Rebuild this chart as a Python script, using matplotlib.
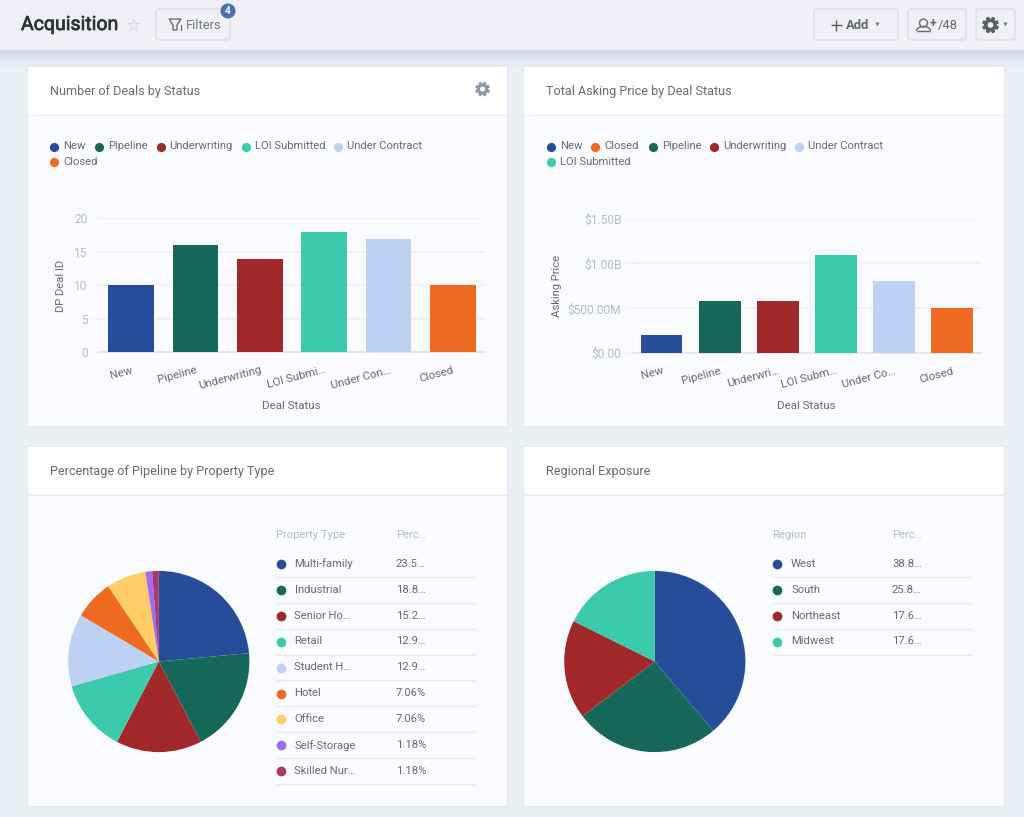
import matplotlib
matplotlib.use('Agg')
import numpy as np
import matplotlib.pyplot as plt
import matplotlib.patheffects as pe
from matplotlib.patches import Rectangle, FancyBboxPatch, Circle, Arc, Polygon

plt.rcParams['font.family'] = ['Roboto', 'DejaVu Sans']

W, H = 1024, 817

# bar charts
statuses = ['New', 'Pipeline', 'Underwriting', 'LOI Submitted', 'Under Contract', 'Closed']
deal_labels = ['New', 'Pipeline', 'Underwriting', 'LOI Submi…', 'Under Con…', 'Closed']
deal_counts = [10, 16, 14, 18, 17, 10]
deal_ticks = [0, 5, 10, 15, 20]
price_labels = ['New', 'Pipeline', 'Underwri…', 'LOI Subm…', 'Under Co…', 'Closed']
asking_prices = [0.2e9, 0.58e9, 0.585e9, 1.09e9, 0.8e9, 0.5e9]
price_ticks = [0, 0.5e9, 1.0e9, 1.5e9]
price_ticklabels = ['$0.00', '$500.00M', '$1.00B', '$1.50B']
legend_order_2 = ['New', 'Closed', 'Pipeline', 'Underwriting', 'Under Contract', 'LOI Submitted']

# pies
type_labels = ['Multi-family', 'Industrial', 'Senior Ho…', 'Retail', 'Student H…',
               'Hotel', 'Office', 'Self-Storage', 'Skilled Nur…']
type_values = [23.53, 18.82, 15.29, 12.94, 12.94, 7.06, 7.06, 1.18, 1.18]
type_pct = ['23.5…', '18.8…', '15.2…', '12.9…', '12.9…', '7.06%', '7.06%', '1.18%', '1.18%']
region_labels = ['West', 'South', 'Northeast', 'Midwest']
region_values = [38.82, 25.88, 17.65, 17.65]
region_pct = ['38.8…', '25.8…', '17.6…', '17.6…']

palette = ['#264d99', '#16695a', '#a1282b', '#3bcbac', '#bfd1f2',
           '#ee6a20', '#ffcc66', '#a06bf5', '#a83a6b']
status_colors = {'New': palette[0], 'Pipeline': palette[1], 'Underwriting': palette[2],
                 'LOI Submitted': palette[3], 'Under Contract': palette[4], 'Closed': palette[5]}

BG = '#eceef5'
BODY = '#fafbfe'
GRID = '#f0f1f5'
TXT = '#666a70'
AXT = '#b4bcc6'


def px_axes(left, top, right, bottom, **kw):
    return fig.add_axes([left / W, 1 - bottom / H, (right - left) / W, (bottom - top) / H], **kw)


def fs(px):
    return px * 0.72


fig = plt.figure(figsize=(W / 100, H / 100), dpi=100, facecolor=BG)

# page chrome, drawn in pixel coords
bg = fig.add_axes([0, 0, 1, 1], zorder=0)
bg.set_xlim(0, W)
bg.set_ylim(H, 0)
bg.axis('off')

# header shadow
for i in range(18):
    bg.add_patch(Rectangle((0, 50 + i), W, 1, fc='#b9c3e0', ec='none', alpha=0.6 * (1 - i / 18) ** 1.5, zorder=1))
bg.add_patch(Rectangle((0, 0), W, 50, fc='#eef0f6', ec='none', zorder=2))
bg.plot([0, W], [50, 50], color='#dadeea', lw=0.8, zorder=2)

bg.text(21, 25, 'Acquisition', fontsize=fs(19.5), color='#2d3238', va='center', zorder=3,
        path_effects=[pe.withStroke(linewidth=0.5, foreground='#2d3238')])
bg.text(134, 25.5, '☆', fontsize=fs(17), color='#c6cad2', ha='center', va='center', family='DejaVu Sans', zorder=3)


def button(x0, y0, x1, y1):
    bg.add_patch(FancyBboxPatch((x0 + 3, y0 + 3), x1 - x0 - 6, y1 - y0 - 6, boxstyle='round,pad=3',
                                fc='#eef0f6', ec='#d9dce3', lw=0.9, zorder=3))


def gear(cx, cy, r, color, face):
    angles = np.linspace(0, 2 * np.pi, 8, endpoint=False) + np.pi / 8
    pts = []
    for a in angles:
        for da, rr in [(-0.3, 0.76), (-0.2, 1.0), (0.2, 1.0), (0.3, 0.76)]:
            pts.append((cx + r * rr * np.cos(a + da), cy + r * rr * np.sin(a + da)))
    bg.add_patch(Polygon(pts, closed=True, fc=color, ec='none', zorder=4))
    bg.add_patch(Circle((cx, cy), r * 0.34, fc=face, ec='none', zorder=5))


button(156, 9, 230, 40)
bg.add_patch(Polygon([(169, 19), (181, 19), (177, 25), (177, 30), (173, 30), (173, 25)], closed=True,
                     fc='none', ec='#666a70', lw=1, zorder=4))
bg.plot([180.5, 180.5], [25, 30], color='#666a70', lw=0.8, zorder=4)
bg.text(186, 25, 'Filters', fontsize=fs(13), color='#75797f', va='center', zorder=4)
bg.add_patch(Circle((228, 11), 7.5, fc='#4a6db5', ec='none', zorder=5))
bg.text(228, 10.5, '4', fontsize=fs(10), fontweight='bold', color='white', ha='center', va='center', zorder=6)

button(814, 9, 898, 40)
bg.plot([830.5, 841.5], [25, 25], color='#555a60', lw=1, zorder=4, solid_capstyle='butt')
bg.plot([836, 836], [19.5, 30.5], color='#555a60', lw=1, zorder=4, solid_capstyle='butt')
bg.text(846, 25, 'Add', fontsize=fs(13), fontweight='bold', color='#62666c', va='center', zorder=4)
bg.plot([877], [24], marker='v', ms=3, color='#777b81', mec='none', zorder=4)

button(908, 9, 966, 40)
bg.add_patch(Circle((923.5, 23), 4, fc='none', ec='#666a70', lw=1, zorder=4))
bg.add_patch(Arc((923.5, 31), 14, 9, theta1=180, theta2=360, ec='#666a70', lw=1, zorder=4))
bg.plot([917, 930], [31, 31], color='#666a70', lw=1, zorder=4, solid_capstyle='butt')
bg.text(933, 23.5, '+', fontsize=fs(12), fontweight='bold', color='#666a70', ha='center', va='center', zorder=4)
bg.text(938, 25, '/48', fontsize=fs(13), color='#666a70', va='center', zorder=4)

button(976, 9, 1015, 40)
gear(990.5, 25, 8.5, '#5c6066', '#eef0f6')
bg.plot([1005], [24], marker='v', ms=3, color='#777b81', mec='none', zorder=4)


def card(x0, y0, x1, y1, title):
    bg.add_patch(Rectangle((x0, y0), x1 - x0, y1 - y0, fc=BODY, ec='#e6e8ee', lw=0.8, zorder=3))
    bg.add_patch(Rectangle((x0 + 0.5, y0 + 0.5), x1 - x0 - 1, 48.5, fc='white', ec='none', zorder=3))
    bg.plot([x0, x1], [y0 + 49, y0 + 49], color='#e9ebf0', lw=0.8, zorder=3, solid_capstyle='butt')
    bg.text(x0 + 23, y0 + 25, title, fontsize=fs(12.6), color=TXT, va='center', zorder=4)


card(27, 66, 507, 426, 'Number of Deals by Status')
card(523, 66, 1004, 426, 'Total Asking Price by Deal Status')
card(27, 446, 507, 806, 'Percentage of Pipeline by Property Type')
card(523, 446, 1004, 806, 'Regional Exposure')
gear(482.5, 89, 7.5, '#8c98a4', 'white')


def legend(names, xs, ys):
    for name, x, y in zip(names, xs, ys):
        bg.plot([x], [y], marker='o', ms=6.6, color=status_colors[name], mec='none', zorder=4)
        bg.text(x + 9, y - 0.3, name, fontsize=fs(11.3), color=TXT, va='center', zorder=4)


legend(statuses, [54, 99, 160.5, 246, 338, 54], [146.5] * 5 + [162])
legend(legend_order_2, [551, 595, 653, 714, 799, 551], [146.5] * 5 + [162])


def bar_chart(box, labels, values, ticks, ticklabels, ylim, ylabel, ylabel_x, xlabel_x):
    ax = px_axes(*box, zorder=2)
    ax.patch.set_alpha(0)
    ax.bar(range(6), values, width=0.715, color=[status_colors[s] for s in statuses], zorder=3)
    ax.set_xlim(-0.5, 5.5)
    ax.set_ylim(*ylim)
    ax.set_yticks(ticks)
    ax.set_yticklabels(ticklabels, fontsize=fs(12), color=AXT)
    ax.set_xticks(range(6))
    ax.set_xticklabels(labels, fontsize=fs(11.5), color=TXT, rotation=15, ha='right', rotation_mode='anchor')
    ax.tick_params(axis='y', length=5, color=GRID, width=1, pad=3.2)
    ax.tick_params(axis='x', length=0, pad=9)
    ax.grid(axis='y', color=GRID, lw=1.2, zorder=0)
    for s in ['top', 'left', 'right']:
        ax.spines[s].set_visible(False)
    ax.spines['bottom'].set_color('#e2e4ea')
    ax.spines['bottom'].set_linewidth(1.2)
    bg.text(ylabel_x, (box[1] + box[3]) / 2, ylabel, rotation=90, fontsize=fs(11.3), color=TXT,
            ha='center', va='center', zorder=4)
    bg.text(xlabel_x, 405.5, 'Deal Status', fontsize=fs(11.5), color=TXT, ha='center', va='center', zorder=4)


bar_chart((99, 218.5, 485, 352.5), deal_labels, deal_counts, deal_ticks,
          [str(t) for t in deal_ticks], (0, 20), 'DP Deal ID', 61, 291.5)
bar_chart((632.7, 218.5, 981, 353.3), price_labels, asking_prices, price_ticks,
          price_ticklabels, (0, 1.5e9), 'Asking Price', 557.5, 806.5)


def pie_chart(cx, cy, r, values):
    ax = px_axes(cx - r - 1, cy - r - 1, cx + r + 1, cy + r + 1, zorder=2)
    ax.pie(values, colors=palette[:len(values)], startangle=90, counterclock=False, radius=r / (r + 1))
    ax.set_xlim(-1, 1)
    ax.set_ylim(-1, 1)


pie_chart(158.8, 661.5, 90.6, type_values)
pie_chart(654.8, 661.5, 90.6, region_values)


def table(x, pct_x, header, labels, pcts):
    right = x + 199
    bg.text(x, 535.5, header, fontsize=fs(11.3), color=AXT, va='center', zorder=4)
    bg.text(pct_x, 535.5, 'Perc…', fontsize=fs(11.3), color=AXT, va='center', zorder=4)
    for i, (label, pct) in enumerate(zip(labels, pcts)):
        y = 563.8 + i * 25.9
        bg.plot([x + 4.5], [y + 0.3], marker='o', ms=7, color=palette[i], mec='none', zorder=4)
        bg.text(x + 18.5, y, label, fontsize=fs(11.2), color=TXT, va='center', zorder=4)
        bg.text(pct_x, y, pct, fontsize=fs(11.2), color=TXT, va='center', zorder=4)
        bg.plot([x, right], [y + 13, y + 13], color='#e9ebf0', lw=0.9, zorder=3, solid_capstyle='butt')


table(276, 396, 'Property Type', type_labels, type_pct)
table(772.5, 892, 'Region', region_labels, region_pct)

fig.savefig('out.png', dpi=100, facecolor=BG)
